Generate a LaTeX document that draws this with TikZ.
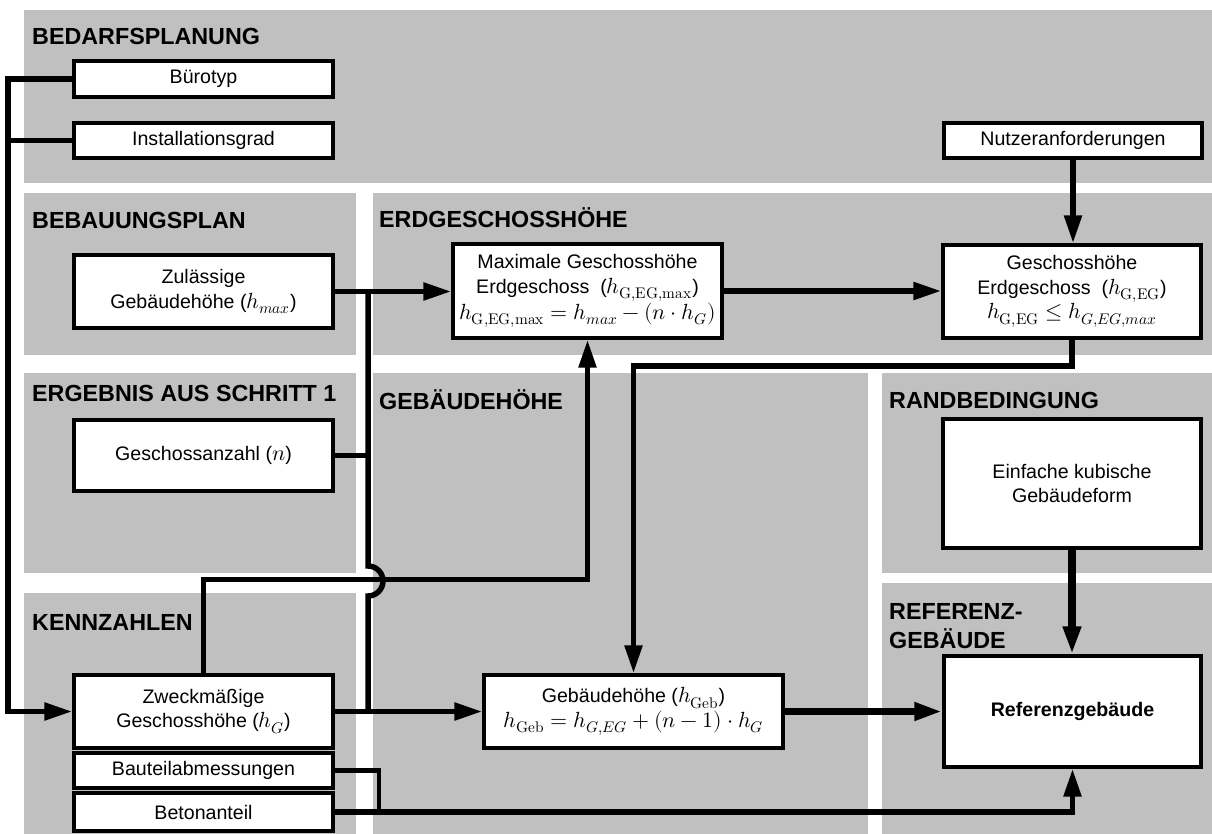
\documentclass[tikz,border=0pt]{standalone}
\usepackage{fontspec}
\usepackage{unicode-math}
\setmainfont{Liberation Sans}
\setmathfont{Latin Modern Math}[Scale=1.12]
\usetikzlibrary{arrows.meta}

\definecolor{panelgray}{RGB}{192,192,192}
\newcommand{\boxfont}{\fontsize{19.6}{24.5}\selectfont}
\newcommand{\headfont}{\fontsize{23.3}{29}\selectfont\bfseries}

\begin{document}
\begin{tikzpicture}[x=1pt,y=-1pt,
  panel/.style={fill=panelgray,draw=none},
  head/.style={anchor=base west,inner sep=0pt,font=\headfont,align=left},
  stepbox/.style={draw,line width=3.4pt,fill=white,inner sep=0pt,align=center,font=\boxfont},
  link/.style={line width=5.5pt},
  thinlink/.style={line width=4.5pt},
  heavylink/.style={line width=7.5pt},
  arr/.style={-{Triangle[length=28pt,width=17pt]}}]

\useasboundingbox (0,0) rectangle (1212,834);

% grey areas
\fill[panel] (24,10)   rectangle (1212,183);
\fill[panel] (24,193)  rectangle (356,355);
\fill[panel] (373,193) rectangle (1212,355);
\fill[panel] (24,373)  rectangle (356,573);
\fill[panel] (373,373) rectangle (868,834);
\fill[panel] (882,373) rectangle (1212,573);
\fill[panel] (882,583) rectangle (1212,834);
\fill[panel] (24,593)  rectangle (356,834);

% area headings
\node[head] (hBed)  at (32,45)   {BEDARFSPLANUNG};
\node[head] (hBeb)  at (32,229)  {BEBAUUNGSPLAN};
\node[head] (hEg)   at (379,228) {ERDGESCHOSSHÖHE};
\node[head] (hErg)  at (32,401)  {ERGEBNIS AUS SCHRITT 1};
\node[head] (hGeb)  at (379,409) {GEBÄUDEHÖHE};
\node[head] (hRand) at (889,408) {RANDBEDINGUNG};
\node[head] (hKenn) at (32,630)  {KENNZAHLEN};
\node[head] (hRef1) at (889,619) {REFERENZ-};
\node[head] (hRef2) at (889,648) {GEBÄUDE};

% boxes
\node[stepbox,minimum width=259pt,minimum height=36pt] (buero)   at (203.5,79)    {Bürotyp};
\node[stepbox,minimum width=259pt,minimum height=35pt] (install) at (203.5,140.5) {Installationsgrad};
\node[stepbox,minimum width=259pt,minimum height=73pt] (zul)     at (203.5,291.5) {Zulässige\\Gebäudehöhe ($h_{max}$)};
\node[stepbox,minimum width=259pt,minimum height=71pt] (anzahl)  at (203.5,455.5) {Geschossanzahl ($n$)};
\node[stepbox,minimum width=259pt,minimum height=73pt] (zweck)   at (203.5,711.5) {Zweckmäßige\\Geschosshöhe ($h_G$)};
\node[stepbox,minimum width=259pt,minimum height=35pt] (bauteil) at (203.5,770.5) {Bauteilabmessungen};
\node[stepbox,minimum width=259pt,minimum height=38pt] (beton)   at (203.5,812)   {Betonanteil};
\node[stepbox,minimum width=269pt,minimum height=94pt] (maxgh)   at (587.5,291)   {Maximale Geschosshöhe\\Erdgeschoss\ \ ($h_{\symup{G,EG,max}}$)\\$h_{\symup{G,EG,max}}=h_{max}-(n\cdot h_G)$};
\node[stepbox,minimum width=258pt,minimum height=93pt] (gheg)    at (1072,291.5)  {Geschosshöhe\\Erdgeschoss\ \ ($h_{\symup{G,EG}}$)\\$h_{\symup{G,EG}}\le h_{G,EG,max}$};
\node[stepbox,minimum width=258pt,minimum height=35pt] (nutzer)  at (1073,140.5)  {Nutzeranforderungen};
\node[stepbox,minimum width=299pt,minimum height=73pt] (gebh)    at (633.5,711.5) {Gebäudehöhe ($h_{\symup{Geb}}$)\\$h_{\symup{Geb}}=h_{G,EG}+(n-1)\cdot h_G$};
\node[stepbox,minimum width=258pt,minimum height=129pt] (kubisch) at (1072,483.5) {Einfache kubische\\Gebäudeform};
\node[stepbox,minimum width=257pt,minimum height=111pt] (ref)    at (1072.5,711.5) {\textbf{Referenzgebäude}};

% junction points
\coordinate (leftN) at (8,79);
\coordinate (leftS) at (8,711.5);
\coordinate (busN)  at (368,291.5);
\coordinate (hopA)  at (368,566);
\coordinate (busS)  at (368,711.5);
\coordinate (btj)   at (379,812);

% connectors
\draw[link,arr] (buero.west) -- (leftN) -- (leftS) -- (zweck.west);
\draw[link] (install.west) -- (install.west -| leftN);
\draw[thinlink] (zul.east) -- (busN);
\draw[link,arr] (busN) -- (maxgh.west |- busN);
\draw[link] (busN) -- (hopA) arc[start angle=-90,end angle=90,radius=15] -- (busS);
\draw[thinlink] (anzahl.east) -- (anzahl.east -| busN);
\draw[link,arr] (zweck.east) -- (gebh.west);
\draw[link,arr] (zweck.north) -- ++(0,-94) -| (maxgh.south);
\draw[link,arr] (maxgh.east) -- (gheg.west |- maxgh.east);
\draw[link,arr] (nutzer.south) -- (nutzer.south |- gheg.north);
\draw[link,arr] (gheg.south) -- ++(0,26.5) -| (gebh.north);
\draw[heavylink,arr] (gebh.east) -- (ref.west);
\draw[heavylink,arr] (kubisch.south) -- (kubisch.south |- ref.north);
\draw[thinlink] (bauteil.east) -| (btj);
\draw[link,arr] (beton.east) -| (ref.south);

\end{tikzpicture}
\end{document}
